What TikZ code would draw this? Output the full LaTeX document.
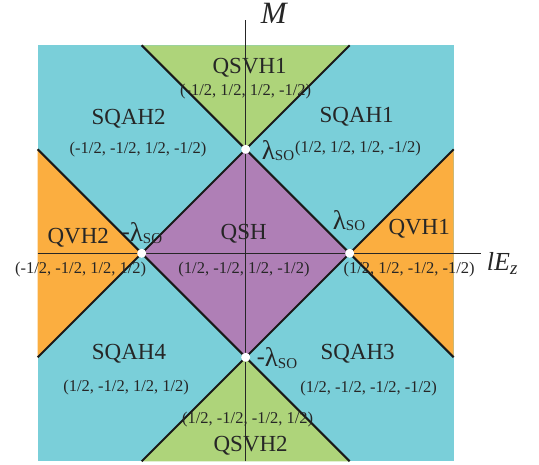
\documentclass[tikz,border=0pt]{standalone}
\usepackage{fontspec}
\setmainfont{Liberation Serif}
\usetikzlibrary{positioning}

\definecolor{sqahcol}{RGB}{122,207,217}
\definecolor{qsvhcol}{RGB}{174,212,122}
\definecolor{qvhcol}{RGB}{251,174,64}
\definecolor{qshcol}{RGB}{175,127,182}

\newcommand{\lamso}{{\fontsize{27}{27}\selectfont λ}\raisebox{-1.5pt}{\fontsize{15}{15}\selectfont SO}}
\newcommand{\negsign}{\raisebox{2.5pt}{\fontsize{24}{24}\selectfont -}}

\begin{document}
\begin{tikzpicture}[
    x=1pt, y=1pt,
    every node/.style={inner sep=0pt, text=black!85},
    phase/.style={font=\fontsize{23}{23}\selectfont},
    qnum/.style={font=\fontsize{16.5}{16.5}\selectfont},
    bline/.style={line width=2pt, black!90},
    axisline/.style={line width=1.2pt, black!85},
    dot/.style={circle, fill=white, minimum size=9pt}
]
\useasboundingbox (-245.7,-211.7) rectangle (293.3,253.3);

% Phase regions
\fill[sqahcol] (-208,-208) rectangle (208,208);
\fill[qsvhcol] (-104,208) -- (104,208) -- (0,104) -- cycle;
\fill[qsvhcol] (-104,-208) -- (104,-208) -- (0,-104) -- cycle;
\fill[qvhcol] (-208,104) -- (-208,-104) -- (-104,0) -- cycle;
\fill[qvhcol] (208,104) -- (208,-104) -- (104,0) -- cycle;
\fill[qshcol] (0,104) -- (104,0) -- (0,-104) -- (-104,0) -- cycle;

% Phase boundaries
\draw[bline] (-208,-104) -- (104,208);
\draw[bline] (208,-104) -- (-104,208);
\draw[bline] (-208,104) -- (104,-208);
\draw[bline] (208,104) -- (-104,-208);

% Axes
\draw[axisline] (0,-208) -- (0,233);
\draw[axisline] (-208,0) -- (235,0);
\node[anchor=base west, font=\fontsize{31}{31}\selectfont\itshape] (mlabel) at (15,229.3) {M};
\node[anchor=base west, font=\fontsize{26}{26}\selectfont\itshape] (ezlabel) at (241,-17)
    {lE\raisebox{-4pt}{\fontsize{19}{19}\selectfont z}};

% Critical points
\node[dot] (ptop) at (0,104) {};
\node[dot] (pleft) at (-104,0) {};
\node[dot] (pright) at (104,0) {};
\node[dot] (pbottom) at (0,-104) {};
\node[anchor=base west] (ltop) at (16,94) {\lamso};
\node[anchor=base west] (lleft) at (-124,11.5) {\negsign\lamso};
\node[anchor=base west] (lright) at (87,24) {\lamso};
\node[anchor=base west] (lbottom) at (11,-113.4) {\negsign\lamso};

% Phase labels
\node[phase] (qsvh1) at (4,185.3) {QSVH1};
\node[qnum] (nqsvh1) at (0,162) {(-1/2, 1/2, 1/2, -1/2)};
\node[phase] (sqah2) at (-117,135) {SQAH2};
\node[qnum] (nsqah2) at (-107.7,103.6) {(-1/2, -1/2, 1/2, -1/2)};
\node[phase] (sqah1) at (111,136.6) {SQAH1};
\node[qnum] (nsqah1) at (112.3,104.5) {(1/2, 1/2, 1/2, -1/2)};
\node[phase] (qvh2) at (-167.4,15.3) {QVH2};
\node[phase] (qsh) at (-2,20) {QSH};
\node[phase] (qvh1) at (173.5,25) {QVH1};
\node[qnum] (nqvh2) at (-165,-16.4) {(-1/2, -1/2, 1/2, 1/2)};
\node[qnum] (nqsh) at (-1.7,-16.4) {(1/2, -1/2, 1/2, -1/2)};
\node[qnum] (nqvh1) at (163.5,-16.7) {(1/2, 1/2, -1/2, -1/2)};
\node[phase] (sqah4) at (-116.7,-100) {SQAH4};
\node[qnum] (nsqah4) at (-119.5,-134) {(1/2, -1/2, 1/2, 1/2)};
\node[phase] (sqah3) at (112,-100) {SQAH3};
\node[qnum] (nsqah3) at (123,-135) {(1/2, -1/2, -1/2, -1/2)};
\node[qnum] (nqsvh2) at (2,-166) {(1/2, -1/2, -1/2, 1/2)};
\node[phase] (qsvh2) at (5,-192) {QSVH2};
\end{tikzpicture}
\end{document}
